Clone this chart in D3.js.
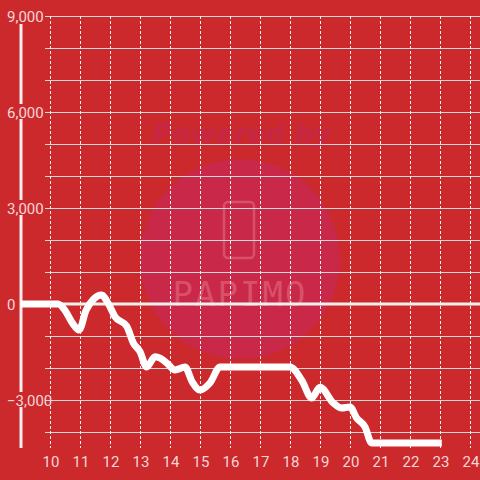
<!DOCTYPE html>
<html><head><meta charset="utf-8">
<script src="https://cdn.jsdelivr.net/npm/d3@7"></script>
<style>html,body{margin:0;padding:0;background:#cc292d;}svg{display:block;}</style>
</head><body>
<svg id="c" width="480" height="480"></svg>
<script>
const xs = [9.03,10.27,10.5,10.75,10.97,11.2,11.45,11.72,11.95,12.17,12.56,12.78,13.0,13.22,13.5,13.67,13.9,14.17,14.5,14.75,15.0,15.33,15.67,16.0,17.0,18.0,18.4,18.72,19.0,19.44,19.72,20.0,20.22,20.5,20.72,21.0,22.0,23.06];
const ys = [0,0,-200,-600,-812,-200,150,280,0,-400,-700,-1220,-1490,-1970,-1650,-1690,-1850,-2060,-1970,-2450,-2690,-2470,-1970,-1970,-1970,-1970,-2400,-2940,-2600,-3090,-3250,-3220,-3560,-3840,-4340,-4340,-4340,-4340];
const yTicks = [9000,6000,3000,0,-3000];
const yGrid = [9000,8000,7000,6000,5000,4000,3000,2000,1000,-1000,-2000,-3000,-4000];
const xTicks = [10,11,12,13,14,15,16,17,18,19,20,21,22,23,24];

const svg = d3.select("#c");
const x = d3.scaleLinear().domain([9, 24.333]).range([20, 480]);
const y = d3.scaleLinear().domain([9000, -4500]).range([16, 448]);
const bg = "#cc292d";

// watermark
const wm = svg.append("g");
wm.append("circle").attr("cx",240).attr("cy",259).attr("r",100).attr("fill","#c92848");
wm.append("text").attr("x",242).attr("y",143).attr("text-anchor","middle")
  .attr("font-family","DejaVu Sans, sans-serif").attr("font-size",27).attr("font-weight","bold").attr("font-style","italic")
  .attr("fill","#c62744").text("Powered by");
wm.append("rect").attr("x",224).attr("y",202).attr("width",30).attr("height",56).attr("rx",4)
  .attr("fill","none").attr("stroke","#d9506a").attr("stroke-width",2.5);
wm.append("text").attr("x",240).attr("y",306).attr("text-anchor","middle")
  .attr("font-family","DejaVu Sans Mono, monospace").attr("font-size",34).attr("letter-spacing",2)
  .attr("fill","#d9506a").text("PAPIMO");

// grid
svg.append("g").selectAll("line").data(yGrid).join("line")
  .attr("x1",45).attr("x2",480).attr("y1",d=>Math.round(y(d))+0.5).attr("y2",d=>Math.round(y(d))+0.5)
  .attr("stroke","#d8d8d8").attr("stroke-width",1);
svg.append("g").selectAll("line").data(xTicks).join("line")
  .attr("x1",d=>Math.round(x(d))+0.5).attr("x2",d=>Math.round(x(d))+0.5).attr("y1",16).attr("y2",448)
  .attr("stroke","#f2f2f2").attr("stroke-width",1).attr("stroke-dasharray","3,2");

// zero line
svg.append("line").attr("x1",20).attr("x2",480).attr("y1",y(0)).attr("y2",y(0))
  .attr("stroke","#f4f0f0").attr("stroke-width",3);
// left axis
svg.append("line").attr("x1",21).attr("x2",21).attr("y1",24).attr("y2",448)
  .attr("stroke","#f4f0f0").attr("stroke-width",3);

// data line
const pts = xs.map((d,i)=>[x(d),y(ys[i])]);
svg.append("path").attr("d", d3.line().curve(d3.curveMonotoneX)(pts))
  .attr("fill","none").attr("stroke","#ffffff").attr("stroke-width",7).attr("stroke-linejoin","round");

// y labels
const yl = svg.append("g").selectAll("g").data(yTicks).join("g");
yl.append("rect").attr("x",5).attr("y",d=>y(d)-8).attr("width",d=>d===0?12:(d<0?40:38)).attr("height",15).attr("fill",bg);
yl.append("text").attr("x",7).attr("y",d=>y(d)+6).attr("font-family","Roboto, sans-serif").attr("font-size",15)
  .attr("fill","#f3d6d6").text(d=>d3.format(",")(d));

// x labels
svg.append("g").selectAll("text").data(xTicks).join("text")
  .attr("x",d=>x(d)+1).attr("y",467).attr("text-anchor","middle")
  .attr("font-family","Roboto, sans-serif").attr("font-size",15).attr("fill","#f3d6d6").text(d=>d);
</script>
</body></html>
